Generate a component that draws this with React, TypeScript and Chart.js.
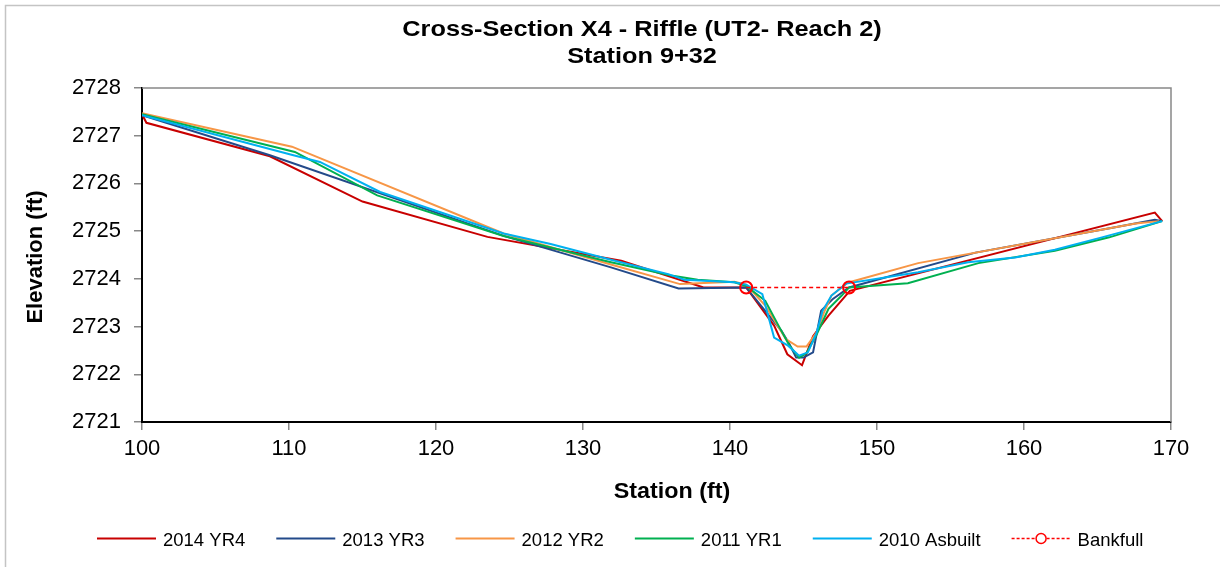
import React, { useEffect, useRef } from "react";
import { Chart, registerables } from "chart.js";

Chart.register(...registerables);

// ---- Data (station ft, elevation ft) ----
const yr4Station = [100.0, 100.3, 108.7, 115.0, 123.5, 132.6, 138.2, 141.1, 143.0, 143.9, 144.9, 145.65, 146.7, 148.15, 168.9, 169.4];
const yr4Elevation = [2727.45, 2727.27, 2726.57, 2725.62, 2724.88, 2724.38, 2723.82, 2723.82, 2723.02, 2722.42, 2722.19, 2722.8, 2723.23, 2723.75, 2725.39, 2725.21];

const yr3Station = [100.0, 108.7, 124.6, 131.9, 136.5, 141.1, 143.5, 144.05, 144.5, 145.0, 145.65, 146.2, 147.0, 148.1, 156.7, 166.2, 168.9, 169.4];
const yr3Elevation = [2727.43, 2726.59, 2724.9, 2724.24, 2723.8, 2723.82, 2722.91, 2722.63, 2722.35, 2722.35, 2722.46, 2723.33, 2723.58, 2723.82, 2724.55, 2725.08, 2725.24, 2725.21];

const yr2Station = [100.0, 110.2, 124.6, 131.9, 136.6, 140.3, 141.1, 142.4, 143.8, 144.6, 145.2, 145.9, 146.4, 146.9, 148.0, 152.8, 167.6, 169.2];
const yr2Elevation = [2727.47, 2726.77, 2724.95, 2724.3, 2723.89, 2723.94, 2723.88, 2723.44, 2722.74, 2722.58, 2722.58, 2722.88, 2723.3, 2723.65, 2723.92, 2724.33, 2725.16, 2725.21];

const yr1Station = [100.0, 110.4, 116.0, 124.6, 131.9, 136.0, 137.8, 140.3, 141.1, 142.4, 143.3, 144.05, 144.7, 145.2, 145.9, 146.7, 147.6, 148.1, 152.1, 156.9, 162.1, 165.8, 169.4];
const yr1Elevation = [2727.45, 2726.66, 2725.75, 2724.9, 2724.35, 2724.07, 2723.98, 2723.93, 2723.85, 2723.54, 2723.02, 2722.6, 2722.35, 2722.44, 2722.84, 2723.37, 2723.65, 2723.82, 2723.91, 2724.33, 2724.59, 2724.87, 2725.21];

const asbuiltStation = [100.0, 110.3, 112.1, 116.2, 124.6, 127.8, 131.9, 135.8, 136.9, 140.3, 141.1, 142.2, 143.0, 143.95, 144.7, 145.3, 145.9, 146.3, 146.9, 147.9, 152.8, 156.2, 159.4, 162.1, 165.3, 169.4];
const asbuiltElevation = [2727.43, 2726.59, 2726.45, 2725.82, 2724.95, 2724.73, 2724.4, 2724.1, 2723.98, 2723.93, 2723.88, 2723.68, 2722.77, 2722.6, 2722.39, 2722.46, 2722.88, 2723.33, 2723.65, 2723.9, 2724.14, 2724.35, 2724.45, 2724.61, 2724.87, 2725.21];

const bankfullStation = [141.1, 148.1];
const bankfullElevation = [2723.82, 2723.82];

const seriesLabels = ["2014 YR4", "2013 YR3", "2012 YR2", "2011 YR1", "2010 Asbuilt", "Bankfull"];
const seriesColors = ["#C80000", "#234A8A", "#F79646", "#00B050", "#00B0F0", "#FF0000"];

const xMin = 100;
const xMax = 170;
const xStep = 10;
const yMin = 2721;
const yMax = 2728;
const yStep = 1;

const titleLines = ["Cross-Section X4 - Riffle (UT2- Reach 2)", "Station 9+32"];
const xTitle = "Station (ft)";
const yTitle = "Elevation (ft)";

const zip = (xs: number[], ys: number[]) => xs.map((x, i) => ({ x, y: ys[i] }));

const FONT = '"Liberation Sans", Arial, sans-serif';

const decorPlugin = {
  id: "decor",
  beforeDraw(chart: any) {
    const ctx = chart.ctx;
    ctx.save();
    ctx.fillStyle = "#FFFFFF";
    ctx.fillRect(0, 0, chart.width, chart.height);
    ctx.strokeStyle = "#C4C4C4";
    ctx.lineWidth = 1.5;
    ctx.strokeRect(5.5, 5.5, 1400, 800);
    ctx.restore();
  },
  afterDraw(chart: any) {
    const ctx = chart.ctx;
    const ca = chart.chartArea;
    ctx.save();
    // plot area top / right border
    ctx.strokeStyle = "#888888";
    ctx.lineWidth = 1.5;
    ctx.beginPath();
    ctx.moveTo(ca.left, ca.top);
    ctx.lineTo(ca.right, ca.top);
    ctx.lineTo(ca.right, ca.bottom);
    ctx.stroke();

    ctx.fillStyle = "#000000";
    // title
    ctx.font = `bold 22px ${FONT}`;
    ctx.textAlign = "center";
    ctx.textBaseline = "alphabetic";
    const titleBase = [35.5, 62.5];
    titleLines.forEach((t, i) => {
      ctx.save();
      ctx.translate(642, titleBase[i]);
      ctx.scale(1.15, 1);
      ctx.fillText(t, 0, 0);
      ctx.restore();
    });

    // x title
    ctx.save();
    ctx.translate(672, 498);
    ctx.scale(1.06, 1);
    ctx.fillText(xTitle, 0, 0);
    ctx.restore();

    // y title
    ctx.save();
    ctx.translate(42, 257);
    ctx.rotate(-Math.PI / 2);
    ctx.fillText(yTitle, 0, 0);
    ctx.restore();

    // legend
    ctx.font = `18.5px ${FONT}`;
    ctx.textAlign = "left";
    ctx.textBaseline = "alphabetic";
    let x = 97;
    const ly = 538.5;
    const lineLen = 59;
    seriesLabels.forEach((label, i) => {
      ctx.save();
      ctx.strokeStyle = seriesColors[i];
      if (i === 5) {
        ctx.lineWidth = 1.5;
        ctx.setLineDash([3, 2]);
      } else {
        ctx.lineWidth = 2;
      }
      ctx.beginPath();
      ctx.moveTo(x, ly);
      ctx.lineTo(x + lineLen, ly);
      ctx.stroke();
      if (i === 5) {
        ctx.setLineDash([]);
        ctx.fillStyle = "#FFFFFF";
        ctx.lineWidth = 1.5;
        ctx.beginPath();
        ctx.arc(x + lineLen / 2, ly, 5, 0, Math.PI * 2);
        ctx.fill();
        ctx.stroke();
      }
      ctx.restore();
      const tx = x + lineLen + 7;
      ctx.fillStyle = "#000000";
      ctx.fillText(label, tx, 545.5);
      x = tx + ctx.measureText(label).width + 31;
    });
    ctx.restore();
  },
};

export default function App() {
  const ref = useRef<HTMLCanvasElement | null>(null);

  useEffect(() => {
    if (!ref.current) return;
    const lineDs = (i: number, xs: number[], ys: number[], order: number) => ({
      label: seriesLabels[i],
      data: zip(xs, ys),
      borderColor: seriesColors[i],
      backgroundColor: seriesColors[i],
      borderWidth: 2,
      pointRadius: 0,
      tension: 0,
      fill: false,
      order,
    });
    const chart = new Chart(ref.current, {
      type: "line",
      data: {
        datasets: [
          lineDs(0, yr4Station, yr4Elevation, 5),
          lineDs(1, yr3Station, yr3Elevation, 4),
          lineDs(2, yr2Station, yr2Elevation, 3),
          lineDs(3, yr1Station, yr1Elevation, 2),
          lineDs(4, asbuiltStation, asbuiltElevation, 1),
          {
            label: seriesLabels[5],
            data: zip(bankfullStation, bankfullElevation),
            borderColor: seriesColors[5],
            backgroundColor: "rgba(255,255,255,0)",
            borderWidth: 1.5,
            borderDash: [4, 3],
            pointRadius: 6,
            pointBorderWidth: 2,
            pointBorderColor: seriesColors[5],
            pointBackgroundColor: "rgba(255,255,255,0)",
            tension: 0,
            fill: false,
            order: 0,
          } as any,
        ],
      },
      options: {
        animation: false,
        responsive: false,
        devicePixelRatio: 1,
        events: [],
        layout: { padding: { top: 88, right: 49, bottom: 0, left: 0 } },
        plugins: {
          legend: { display: false },
          title: { display: false },
          tooltip: { enabled: false },
        },
        scales: {
          x: {
            type: "linear",
            min: xMin,
            max: xMax,
            afterFit: (s: any) => {
              s.height = 145;
            },
            ticks: {
              stepSize: xStep,
              color: "#000000",
              padding: 6,
              maxRotation: 0,
              font: { family: FONT, size: 22 },
              callback: (v: any) => String(v),
            },
            grid: {
              display: true,
              drawOnChartArea: false,
              drawTicks: true,
              tickLength: 8,
              color: "#888888",
              lineWidth: 1.5,
            },
            border: { display: true, color: "#000000", width: 2 },
          },
          y: {
            type: "linear",
            min: yMin,
            max: yMax,
            afterFit: (s: any) => {
              s.width = 142;
            },
            ticks: {
              stepSize: yStep,
              color: "#000000",
              padding: 13,
              font: { family: FONT, size: 22 },
              callback: (v: any) => String(v),
            },
            grid: {
              display: true,
              drawOnChartArea: false,
              drawTicks: true,
              tickLength: 8,
              color: "#888888",
              lineWidth: 1.5,
            },
            border: { display: true, color: "#000000", width: 2 },
          },
        },
      },
      plugins: [decorPlugin],
    });
    return () => chart.destroy();
  }, []);

  return (
    <div style={{ position: "fixed", left: 0, top: 0, width: 1220, height: 567, background: "#fff" }}>
      <canvas ref={ref} width={1220} height={567} style={{ display: "block", width: 1220, height: 567 }} />
    </div>
  );
}
